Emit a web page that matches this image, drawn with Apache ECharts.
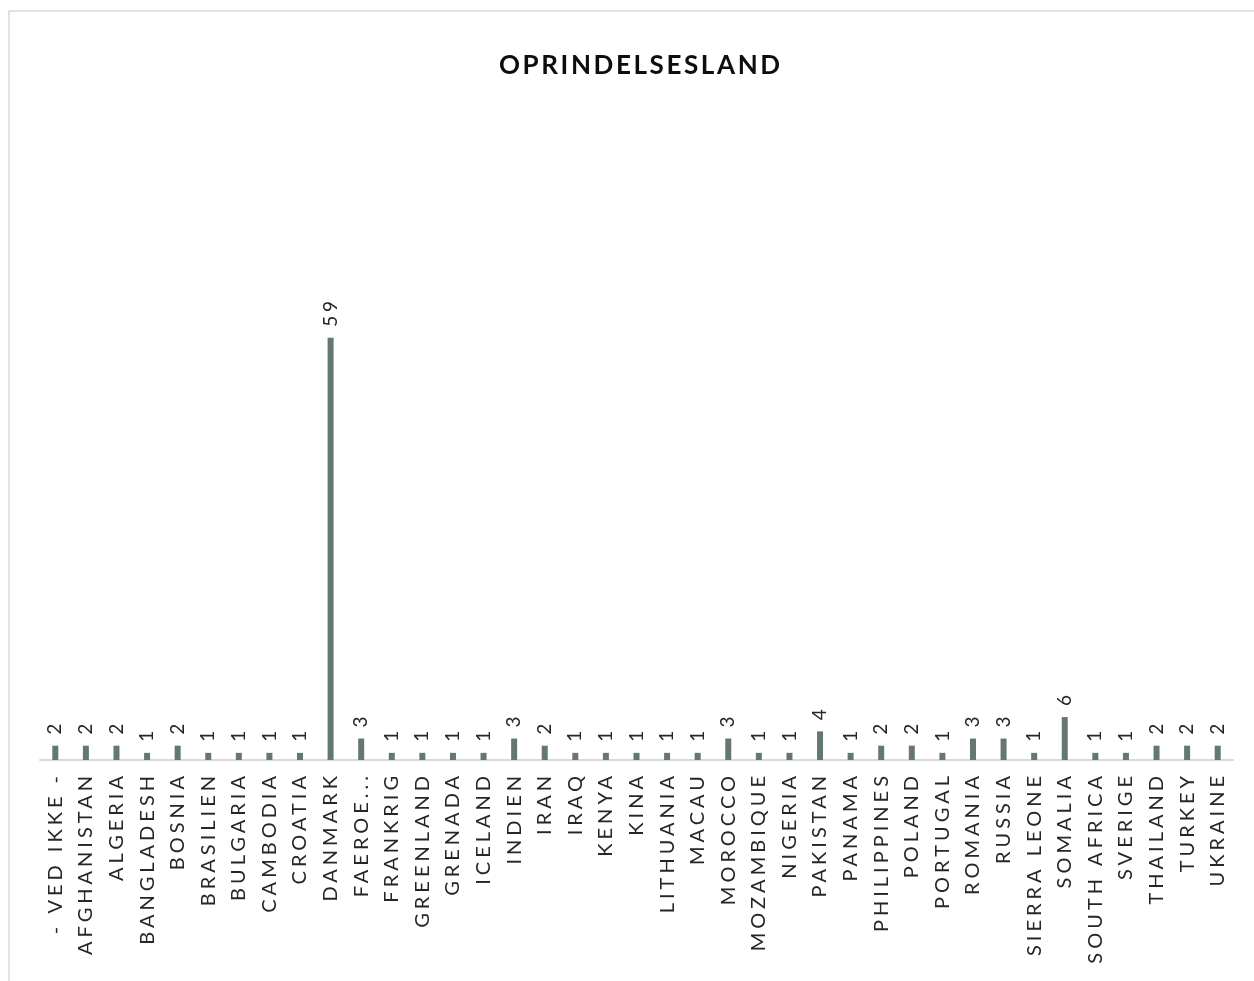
<!DOCTYPE html>
<html>
<head>
<meta charset="utf-8">
<title>Oprindelsesland</title>
<script src="https://cdn.jsdelivr.net/npm/echarts@6/dist/echarts.min.js"></script>
<style>
  html, body { margin: 0; padding: 0; background: #fff; }
  #chart { width: 1254px; height: 981px; }
</style>
</head>
<body>
<div id="chart"></div>
<script>
// categories and counts
const lande = [
  '- VED IKKE -', 'AFGHANISTAN', 'ALGERIA', 'BANGLADESH', 'BOSNIA', 'BRASILIEN',
  'BULGARIA', 'CAMBODIA', 'CROATIA', 'DANMARK', 'FAEROE...', 'FRANKRIG',
  'GREENLAND', 'GRENADA', 'ICELAND', 'INDIEN', 'IRAN', 'IRAQ', 'KENYA', 'KINA',
  'LITHUANIA', 'MACAU', 'MOROCCO', 'MOZAMBIQUE', 'NIGERIA', 'PAKISTAN', 'PANAMA',
  'PHILIPPINES', 'POLAND', 'PORTUGAL', 'ROMANIA', 'RUSSIA', 'SIERRA LEONE',
  'SOMALIA', 'SOUTH AFRICA', 'SVERIGE', 'THAILAND', 'TURKEY', 'UKRAINE'
]
const antal = [
  2, 2, 2, 1, 2, 1,
  1, 1, 1, 59, 3, 1,
  1, 1, 1, 3, 2, 1, 1, 1,
  1, 1, 3, 1, 1, 4, 1,
  2, 2, 1, 3, 3, 1,
  6, 1, 1, 2, 2, 2
]

// the reference uses spaced-out capitals, canvas can do that itself
// (title is bold and a bit tighter than the labels)
const origFillText = CanvasRenderingContext2D.prototype.fillText
CanvasRenderingContext2D.prototype.fillText = function (...args) {
  this.letterSpacing = this.font.indexOf('bold') > -1 ? '0.1em' : '0.2em'
  return origFillText.apply(this, args)
}

const chart = echarts.init(document.getElementById('chart'))
chart.setOption({
  animation: false,
  textStyle: { fontFamily: 'Lato' },
  title: {
    text: 'OPRINDELSESLAND',
    // spacing is not measured by echarts, so centre by hand
    left: 494,
    top: 48,
    textStyle: {
      fontFamily: 'Lato',
      fontSize: 26,
      fontWeight: 'bold',
      color: '#0d0d0d'
    }
  },
  graphic: [
    {
      type: 'rect',
      silent: true,
      shape: { x: 9, y: 11, width: 1270, height: 1000 },
      style: { fill: 'none', stroke: '#d9d9d9', lineWidth: 1.5 }
    }
  ],
  grid: {
    left: 40,
    right: 21,
    top: 259,
    bottom: 221
  },
  xAxis: {
    type: 'category',
    data: lande,
    axisTick: { show: false },
    axisLine: { lineStyle: { color: '#d9d9d9', width: 2 } },
    axisLabel: {
      interval: 0,
      rotate: 90,
      margin: 12,
      fontFamily: 'Lato',
      fontSize: 20,
      color: '#262626'
    }
  },
  yAxis: {
    type: 'value',
    min: 0,
    max: 70,
    show: false,
    splitLine: { show: false }
  },
  series: [
    {
      type: 'bar',
      data: antal,
      barWidth: 6,
      itemStyle: { color: '#65786f' },
      label: {
        show: true,
        position: 'top',
        rotate: 90,
        align: 'left',
        verticalAlign: 'middle',
        distance: 11,
        fontFamily: 'Lato',
        fontSize: 19,
        color: '#262626'
      }
    }
  ]
})
</script>
</body>
</html>
